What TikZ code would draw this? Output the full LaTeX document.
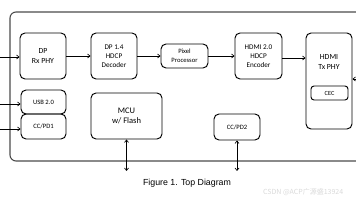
\documentclass[tikz,border=0pt]{standalone}
\usepackage{fontspec}
\setmainfont{Carlito}
\newfontfamily\capfont{Liberation Sans}
\newfontfamily\cjkfont{Noto Sans CJK SC}
\usetikzlibrary{arrows.meta}
\tikzset{
  blk/.style={draw=black, line width=0.95pt, rounded corners=5pt, align=center, inner sep=1pt, font=\fontsize{7.2}{9}\selectfont},
  conn/.style={line width=0.65pt, -{Straight Barb[length=2.5pt,width=4pt]}},
  dconn/.style={line width=0.65pt, {Straight Barb[length=2.5pt,width=4pt]}-{Straight Barb[length=2.5pt,width=4pt]}},
}
\begin{document}
\begin{tikzpicture}[x=1pt,y=-1pt]
\useasboundingbox (0,0) rectangle (356,200);
% outer board
\draw[draw=black!70, line width=1.1pt, rounded corners=6pt] (360,12) -- (10,12) -- (10,161) -- (360,161);
% blocks
\node[blk, minimum width=46pt, minimum height=46pt, font=\fontsize{7.8}{10}\selectfont] (dprx) at (43,56) {DP\\Rx PHY};
\node[blk, minimum width=46pt, minimum height=46pt] (dec) at (114,56) {DP 1.4\\HDCP\\Decoder};
\node[blk, minimum width=47pt, minimum height=24pt, font=\fontsize{6.6}{9}\selectfont] (pix) at (184.5,56) {Pixel\\Processor};
\node[blk, minimum width=47pt, minimum height=46pt] (enc) at (258.5,56) {HDMI 2.0\\HDCP\\Encoder};
\node[blk, minimum width=46pt, minimum height=96pt] (tx) at (329,81) {};
\node[align=center, font=\fontsize{7.8}{10}\selectfont, inner sep=0pt] (txl) at (329,62) {HDMI\\Tx PHY};
\node[blk, minimum width=37pt, minimum height=14pt, rounded corners=3pt, font=\fontsize{6.3}{8}\selectfont] (cec) at (329.5,93) {CEC};
\node[blk, minimum width=45pt, minimum height=24pt, font=\fontsize{6.6}{8}\selectfont] (usb) at (43.5,102) {USB 2.0};
\node[blk, minimum width=45pt, minimum height=25pt, font=\fontsize{6.6}{8}\selectfont] (cc1) at (43.5,126.5) {CC/PD1};
\node[blk, minimum width=71pt, minimum height=46pt, font=\fontsize{8.5}{10.5}\selectfont] (mcu) at (126.5,116) {MCU\\w/ Flash};
\node[blk, minimum width=46pt, minimum height=26pt, font=\fontsize{6.6}{8}\selectfont] (cc2) at (237,127) {CC/PD2};
% free ends
\coordinate (inDP) at (0,57);
\coordinate (inUSB) at (0,104);
\coordinate (inCC1) at (0,129);
\coordinate (inTX) at (357,79);
\coordinate (mcuEnd) at (126.5,171);
\coordinate (cc2End) at (237,171);
% connectors
\draw[conn] (inDP) -- (inDP -| dprx.west);
\draw[conn] (dprx.east) -- (dec.west);
\draw[conn] (dec.east) -- (pix.west);
\draw[conn] (pix.east) -- (enc.west);
\draw[conn] ([yshift=-2pt]enc.east) -- ([yshift=-2pt]enc.east -| tx.west);
\draw[conn] (inTX) -- (inTX -| tx.east);
\draw[conn] (inUSB) -- (inUSB -| usb.west);
\draw[conn] (inCC1) -- (inCC1 -| cc1.west);
\draw[dconn] (mcu.south) -- (mcuEnd);
\draw[dconn] (cc2.south) -- (cc2End);
% caption
\node[font=\capfont\fontsize{8.8}{10}\selectfont, inner sep=0pt] (cap) at (187,183) {Figure 1. Top Diagram};
\node[font=\cjkfont\fontsize{7}{8}\selectfont, text=black!15, anchor=west, inner sep=0pt] (wm) at (263,192) {CSDN @ACP广源盛13924};
\end{tikzpicture}
\end{document}
